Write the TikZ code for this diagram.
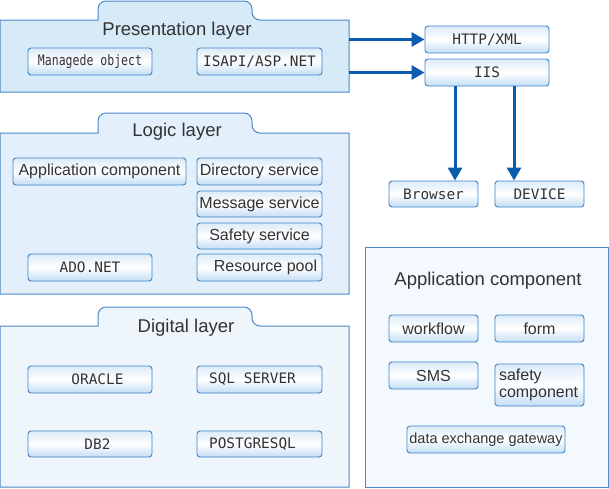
\documentclass[tikz,border=0pt]{standalone}
\usepackage{fontspec}
\usepackage{graphicx}
\setmainfont{Liberation Sans}
\newfontfamily\monof{DejaVu Sans Mono}
\usetikzlibrary{arrows.meta}
\definecolor{txt}{HTML}{333333}
\definecolor{pborder}{HTML}{4A89C8}
\definecolor{presfill}{HTML}{D6EAF8}
\definecolor{logicfill}{HTML}{E3F0FB}
\definecolor{digfill}{HTML}{EEF6FC}
\definecolor{appfill}{HTML}{F3F9FE}
\definecolor{bxborder}{HTML}{3F82C6}
\definecolor{bxtop}{HTML}{DCEBF9}
\definecolor{bxbot}{HTML}{C3DDF4}
\definecolor{arrowc}{HTML}{0B5CAD}
\tikzset{
  panel/.style={draw=pborder, line width=1pt},
  title/.style={text=txt, font=\fontsize{18.5}{20}\selectfont, inner sep=0pt},
  bx/.style={draw=bxborder, line width=0.9pt, rounded corners=3pt, top color=bxtop, bottom color=bxbot, middle color=white, minimum height=27pt, inner sep=0pt, text=txt, font=\fontsize{16}{17}\selectfont},
  mbx/.style={bx, font=\monof\fontsize{14.4}{16}\selectfont},
  arr/.style={draw=arrowc, line width=3pt, -{Triangle[length=13pt,width=14pt]}}
}
\begin{document}
\begin{tikzpicture}[x=1pt,y=-1pt]
\useasboundingbox (0,0) rectangle (609,488);
% panels
\draw[panel, fill=presfill] (0,92) -- (0,20) -- (98,20) [rounded corners=8pt] -- (98,1) -- (252,1) -- (252,20) [sharp corners] -- (349,20) -- (349,92) -- cycle;
\draw[panel, fill=logicfill] (0,294) -- (0,133) -- (98,133) [rounded corners=8pt] -- (98,113) -- (252,113) -- (252,133) [sharp corners] -- (349,133) -- (349,294) -- cycle;
\draw[panel, fill=digfill] (0,487) -- (0,326) -- (98,326) [rounded corners=8pt] -- (98,307) -- (252,307) -- (252,326) [sharp corners] -- (349,326) -- (349,487) -- cycle;
\draw[panel, fill=appfill] (365,247) rectangle (608,487);
\coordinate (presR) at (349,20);
% titles
\node[title, anchor=base] (tpres) at (177,35) {Presentation layer};
\node[title, anchor=base] (tlogic) at (177,136) {Logic layer};
\node[title, anchor=base] (tdig) at (186,332) {Digital layer};
\node[title, anchor=base] (tapp) at (488,285) {Application component};
% presentation
\node[mbx, minimum width=124pt] (mo) at (90,61.5) {\scalebox{0.8}[1]{Managede object}};
\node[mbx, minimum width=125pt] (isapi) at (259.5,61.5) {ISAPI/ASP.NET};
\node[mbx, minimum width=124pt] (http) at (487,39.5) {HTTP/XML};
\node[mbx, minimum width=124pt] (iis) at (487,72.5) {IIS};
\node[mbx, minimum width=89pt, minimum height=26pt] (browser) at (433.5,194) {Browser};
\node[mbx, minimum width=89pt, minimum height=26pt] (device) at (539.5,194) {DEVICE};
% logic
\node[bx, minimum width=173pt] (appc) at (99.5,171.5) {Application component};
\node[bx, minimum width=125pt] (dir) at (259.5,171.5) {Directory service};
\node[bx, minimum width=125pt, minimum height=26pt] (msg) at (259.5,204) {Message service};
\node[bx, minimum width=125pt, minimum height=26pt] (safe) at (259.5,236) {Safety service};
\node[bx, minimum width=125pt] (res) at (259.5,267.5) {\hspace*{12pt}Resource pool};
\node[mbx, minimum width=124pt] (ado) at (90,267.5) {ADO.NET};
% digital
\node[mbx, minimum width=124pt] (oracle) at (90,379.5) {\hspace*{15pt}ORACLE};
\node[mbx, minimum width=125pt] (sql) at (259.5,379.5) {SQL SERVER\hspace*{14pt}};
\node[mbx, minimum width=124pt, minimum height=26pt] (db2) at (90,444) {\hspace*{15pt}DB2};
\node[mbx, minimum width=125pt, minimum height=26pt] (pg) at (259.5,444) {POSTGRESQL\hspace*{14pt}};
% application component panel
\node[bx, minimum width=89pt] (wf) at (433.5,328.5) {workflow};
\node[bx, minimum width=89pt] (form) at (539.5,328.5) {form};
\node[bx, minimum width=89pt] (sms) at (433.5,375.5) {SMS};
\node[bx, minimum width=89pt, minimum height=42pt, align=left, text width=81pt] (safec) at (539.5,385) {safety\\component};
\node[bx, minimum width=158pt, font=\fontsize{14.5}{16}\selectfont] (dxg) at (486,439.5) {data exchange gateway};
% arrows
\draw[arr] (http.west -| presR) -- (http.west);
\draw[arr] (iis.west -| presR) -- (iis.west);
\draw[arr] ([xshift=-32pt]iis.south) -- ([xshift=-32pt]iis.south |- browser.north);
\draw[arr] ([xshift=27pt]iis.south) -- ([xshift=27pt]iis.south |- device.north);
\end{tikzpicture}
\end{document}
